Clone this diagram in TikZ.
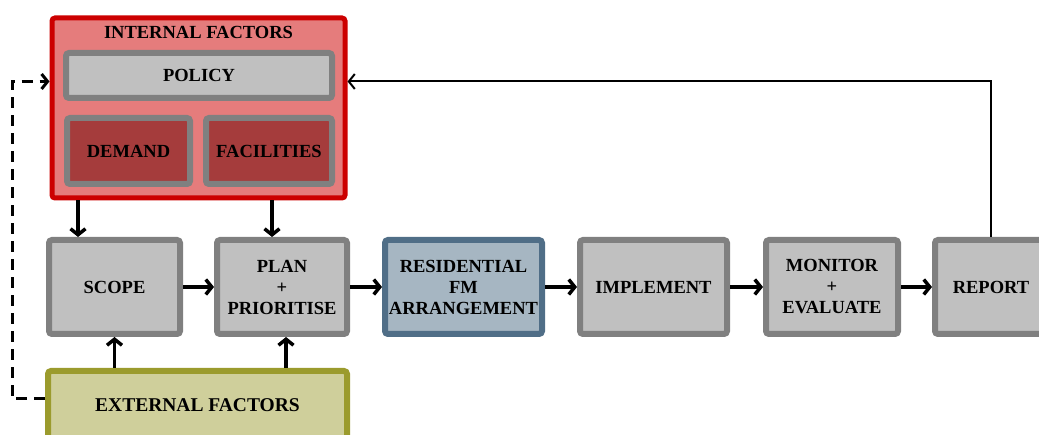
\documentclass[tikz,border=0pt]{standalone}
\usepackage{fontspec}
\setmainfont{Liberation Serif}
\usetikzlibrary{positioning, arrows.meta}

\definecolor{intred}{RGB}{204,0,0}
\definecolor{intfill}{RGB}{229,124,124}
\definecolor{demfill}{RGB}{165,60,60}
\definecolor{boxgray}{RGB}{128,128,128}
\definecolor{fillgray}{RGB}{192,192,192}
\definecolor{resblue}{RGB}{80,110,135}
\definecolor{resfill}{RGB}{166,182,194}
\definecolor{extolive}{RGB}{155,155,45}
\definecolor{extfill}{RGB}{207,207,155}

\begin{document}
\begin{tikzpicture}[x=1pt, y=-1pt,
        every node/.style={font=\bfseries\fontsize{18.5}{21}\selectfont, align=center, inner sep=0pt},
        stage/.style={draw=boxgray, fill=fillgray, line width=6pt, rounded corners=3pt, minimum height=94pt},
        group/.style={draw=intred, fill=intfill, line width=5pt, rounded corners=3pt},
        flow/.style={-{Straight Barb[length=6pt,width=15pt]}, line width=3.5pt},
        feedback/.style={-{Straight Barb[length=6pt,width=15pt]}, line width=2pt},
        dashflow/.style={-{Straight Barb[length=6pt,width=15pt]}, line width=3pt, dash pattern=on 11pt off 7pt}
    ]
        \useasboundingbox (0,0) rectangle (1039,435);

        % internal factors
        \node[group, minimum width=293pt, minimum height=180pt] (internal) at (198.5,108) {};
        \node (inttitle) at (198.5,32) {INTERNAL FACTORS};
        \node[stage, minimum width=266pt, minimum height=45pt] (policy) at (199,75.5) {POLICY};
        \node[stage, fill=demfill, minimum width=123pt, minimum height=66pt] (demand) at (128.5,151) {DEMAND};
        \node[stage, fill=demfill, minimum width=126pt, minimum height=66pt] (facilities) at (269,151) {FACILITIES};

        % process chain
        \node[stage, minimum width=131pt] (scope) at (114.5,287) {SCOPE};
        \node[stage, minimum width=130pt, right=31pt of scope] (plan) {PLAN\\+\\PRIORITISE};
        \node[stage, draw=resblue, fill=resfill, minimum width=157pt, right=32pt of plan] (arrangement) {RESIDENTIAL\\FM\\ARRANGEMENT};
        \node[stage, minimum width=147pt, right=32pt of arrangement] (implement) {IMPLEMENT};
        \node[stage, minimum width=132pt, right=33pt of implement] (monitor) {MONITOR\\+\\EVALUATE};
        \node[stage, minimum width=112pt, right=31pt of monitor] (report) {REPORT};

        % external factors
        \node[stage, draw=extolive, fill=extfill, minimum width=299pt, minimum height=68pt,
              font=\bfseries\fontsize{19.5}{21}\selectfont] (external) at (197.5,405) {EXTERNAL FACTORS};

        \draw[flow] ([xshift=32pt]scope.north west |- internal.south) -- ([xshift=32pt]scope.north west);
        \draw[flow] ([xshift=-10pt]plan.north |- internal.south) -- ([xshift=-10pt]plan.north);
        \draw[flow] (scope.south |- external.north) -- (scope.south);
        \draw[flow] ([xshift=4pt]plan.south |- external.north) -- ([xshift=4pt]plan.south);

        \draw[flow] (scope) -- (plan);
        \draw[flow] (plan) -- (arrangement);
        \draw[flow] (arrangement) -- (implement);
        \draw[flow] (implement) -- (monitor);
        \draw[flow] (monitor) -- (report);

        \draw[feedback] (report.north) |- ([yshift=-66pt]internal.north east);
        \draw[dashflow] ([yshift=6pt]external.west) -- ++(-33,0) |- ([yshift=-66pt]internal.north west);
    \end{tikzpicture}
\end{document}
